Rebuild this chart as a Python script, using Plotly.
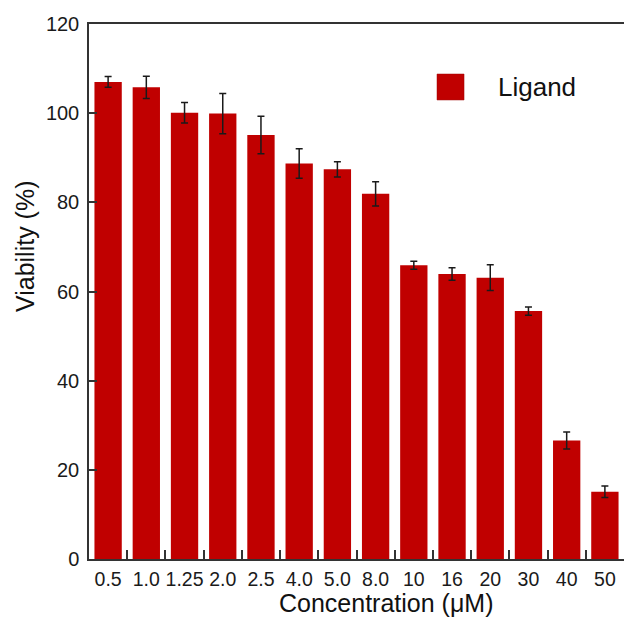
import plotly.graph_objects as go

# Cell viability after treatment with the ligand at each concentration
concentrations = ["0.5", "1.0", "1.25", "2.0", "2.5", "4.0", "5.0", "8.0",
                  "10", "16", "20", "30", "40", "50"]
viability = [107.0, 105.8, 100.1, 99.9, 95.1, 88.7, 87.4, 81.9,
             65.9, 63.9, 63.1, 55.6, 26.6, 15.1]
viability_sd = [1.2, 2.5, 2.3, 4.5, 4.2, 3.3, 1.7, 2.7,
                0.9, 1.4, 2.9, 0.9, 1.9, 1.3]
series_name = "Ligand"
y_ticks = [0, 20, 40, 60, 80, 100, 120]

BAR_COLOR = "#c00000"
AXIS_COLOR = "#333333"
FONT = "Liberation Sans, Arial, sans-serif"

fig = go.Figure()
fig.add_trace(go.Bar(
    x=concentrations,
    y=viability,
    name=series_name,
    marker=dict(color=BAR_COLOR, line=dict(width=0)),
    error_y=dict(type="data", array=viability_sd, visible=True,
                 color="#1a1a1a", thickness=1.5, width=3.5),
    showlegend=False,
))

fig.update_layout(
    width=624, height=624,
    margin=dict(l=89, r=0, t=24, b=65),
    paper_bgcolor="white", plot_bgcolor="white",
    font=dict(family=FONT, size=20, color="#1a1a1a"),
    bargap=0.285,
    xaxis=dict(
        type="category",
        range=[-0.5, len(concentrations) - 0.5],
        tickson="boundaries",
        ticks="inside", ticklen=9, tickwidth=1.5, tickcolor=AXIS_COLOR,
        showline=True, linecolor=AXIS_COLOR, linewidth=1.5, mirror=True,
        showgrid=False, zeroline=False,
        tickangle=0,
        tickfont=dict(size=19.5),
        ticklabelstandoff=2,
        fixedrange=True,
    ),
    yaxis=dict(
        range=[0, 120],
        tickvals=y_ticks,
        ticks="inside", ticklen=8, tickwidth=1.5, tickcolor=AXIS_COLOR,
        showline=True, linecolor=AXIS_COLOR, linewidth=1.5, mirror=False,
        showgrid=False, zeroline=False,
        tickfont=dict(size=20),
        ticklabelstandoff=4,
        fixedrange=True,
    ),
)

# Axis titles
fig.add_annotation(text="Concentration (μM)", xref="paper", yref="paper",
                   x=0.556, y=-0.082, xanchor="center", yanchor="middle",
                   showarrow=False, font=dict(size=25, family=FONT, color="#111111"))
fig.add_annotation(text="Viability (%)", xref="paper", yref="paper",
                   x=-0.1196, y=0.585, xanchor="center", yanchor="middle",
                   textangle=-90, showarrow=False,
                   font=dict(size=25, family=FONT, color="#111111"))

# Legend key: swatch plus series name
fig.add_shape(type="rect", xref="paper", yref="paper",
              x0=0.6505, x1=0.701, y0=0.858, y1=0.9065,
              fillcolor=BAR_COLOR, line=dict(width=0.5, color="#a00000"))
fig.add_annotation(text=series_name, xref="paper", yref="paper",
                   x=0.7607, y=0.882, xanchor="left", yanchor="middle",
                   showarrow=False, font=dict(size=26, family=FONT, color="#111111"))

fig.write_html("out.html")
